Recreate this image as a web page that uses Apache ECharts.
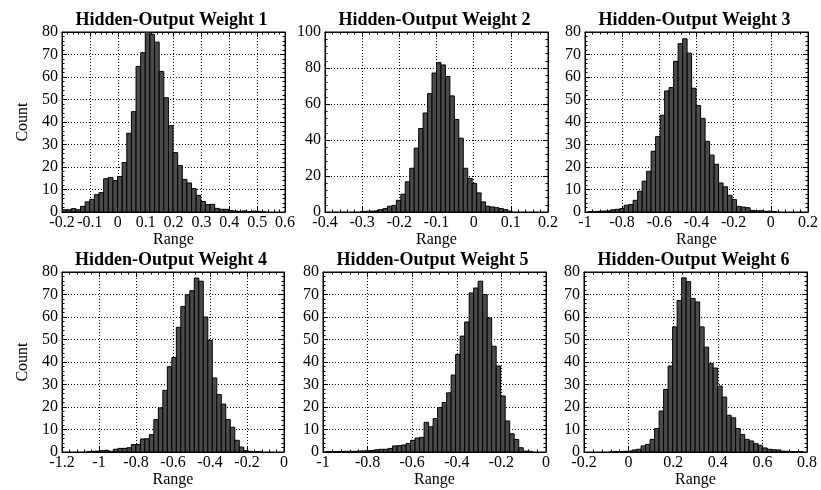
<!DOCTYPE html>
<html>
<head>
<meta charset="utf-8">
<script src="https://cdn.jsdelivr.net/npm/echarts@6/dist/echarts.min.js"></script>
<style>
html,body{margin:0;padding:0;background:#fff;}
#c{width:821px;height:490px;}
</style>
</head>
<body>
<div id="c"></div>
<script>
// ---- data ----
const titles = ["Hidden-Output Weight 1","Hidden-Output Weight 2","Hidden-Output Weight 3","Hidden-Output Weight 4","Hidden-Output Weight 5","Hidden-Output Weight 6"];

const binStart1 = -0.2, binWidth1 = 0.0166;
const counts1 = [1,1,1.5,1,2.5,4.5,5.6,7.7,8.6,14.8,15.3,14,15.8,22,35,44.6,64.7,70.8,80,79,75.5,62.5,50.8,38.4,26.4,20.7,14.5,12.9,10.4,7.4,4.7,3.3,3.4,1.6,1.2,1.2,0.6,0.4,0.3,0.5,0.2,0.4,0.3,0.2];

const binStart2 = -0.304, binWidth2 = 0.012;
const counts2 = [0.3,0.4,0.5,0.6,1.3,1.9,3.2,3.7,6.5,9.9,16.8,24.3,35.5,46.4,55,65.8,77.2,83,81.7,75.3,64.5,51.4,41,24.3,18.7,15.9,10.6,5.6,3.2,2.8,2.4,1.9,1.3,0.5];

const binStart3 = -0.983, binWidth3 = 0.0242;
const counts3 = [0.2,0.2,0.3,0.4,0.5,1,1.2,1.5,3,3.3,5.2,9.2,13.7,18.1,27,33.5,43,53.8,55.3,67,74.8,77,70.6,55,47.3,41.6,31.4,25.3,21.2,12.9,11.2,7.4,5.5,2.5,2.2,1.9,0.7,0.5,0.6,0.3,0.4,0.2];

const binStart4 = -1.068, binWidth4 = 0.0243;
const counts4 = [0.2,0.3,0.4,0.6,0.7,0.3,1.2,1.6,1.6,1.9,3.3,3.3,5.8,5.9,7.7,14.4,19.6,27.4,37.9,42,55.4,64.7,69.9,71.7,77.3,75.9,60,49.6,32.9,25.5,21.3,14.4,11,5.2,2.2,0.6,0.3,0.2,0.2];

const binStart5 = -0.991, binWidth5 = 0.0202;
const counts5 = [0.1,0.2,0.2,0.2,0.3,0.3,0.3,0.4,0.5,0.6,0.7,1,1.2,1.2,1.6,2.7,2.8,3.1,3.8,5.2,6.2,6.5,13.2,11.2,14.9,19.7,22,26.3,34.2,43.3,51.5,57.8,70.7,72.9,75.9,70,59.6,47,38.2,24.9,13.8,8.1,5.6,1.9,0.4,0.3];

const binStart6 = -0.0854, binWidth6 = 0.0202;
const counts6 = [0.1,0.2,0.2,0.3,0.4,0.9,1.2,2.7,3.4,5.6,10.4,18.2,27.8,38.2,55.6,67.3,77.4,75.7,68.2,66.7,55.6,46.6,39.3,37.3,29.3,24.4,16.3,15.2,10.4,7.8,5.6,4.9,3.7,3,1.8,1.2,1,0.9,0.4,0.3,0.2,0.2,0.1];

// axis ranges / ticks
const xMin = [-0.2,-0.4,-1,-1.2,-1,-0.2];
const xMax = [0.6,0.2,0.2,0,0,0.8];
const xStep = [0.1,0.1,0.2,0.2,0.2,0.2];
const yMax = [80,100,80,80,80,80];
const yStep = [10,20,10,10,10,10];

const xName = "Range", yName = "Count";

// ---- layout ----
const grids = [
  {left:62, top:32, width:223, height:180},
  {left:325, top:32, width:223, height:180},
  {left:585, top:32, width:223, height:180},
  {left:62, top:272, width:222, height:180},
  {left:323, top:272, width:223, height:180},
  {left:584, top:272, width:223, height:180}
];
const starts = [binStart1,binStart2,binStart3,binStart4,binStart5,binStart6];
const widths = [binWidth1,binWidth2,binWidth3,binWidth4,binWidth5,binWidth6];
const counts = [counts1,counts2,counts3,counts4,counts5,counts6];

const FONT = "Liberation Serif";
const fmt = v => String(+v.toFixed(3));

const option = {
  backgroundColor:'#fff',
  animation:false,
  title:[], grid:[], xAxis:[], yAxis:[], series:[]
};

grids.forEach((g,i)=>{
  option.grid.push({left:g.left, top:g.top, width:g.width, height:g.height, show:true, borderColor:'#000', borderWidth:1, backgroundColor:'transparent'});
  option.title.push({text:titles[i], left:g.left + g.width/2 - 2, top:g.top-21, textAlign:'center', padding:0,
    textStyle:{fontFamily:FONT, fontWeight:'bold', fontSize:18, color:'#000'}});
  const common = {type:'value', gridIndex:i};
  const line = {show:true, onZero:false, lineStyle:{color:'#000', width:1}};
  const tick = {show:true, inside:true, length:5, lineStyle:{color:'#000'}};
  const mtick = {show:true, splitNumber:5, length:2.5, lineStyle:{color:'#000'}};
  option.xAxis.push(Object.assign({}, common, {
    position:'bottom', min:xMin[i], max:xMax[i], interval:xStep[i],
    name:xName, nameLocation:'middle', nameGap:19,
    nameTextStyle:{fontFamily:FONT, fontSize:16, color:'#000'},
    axisLine:line, axisTick:tick, minorTick:mtick,
    axisLabel:{show:true, margin:3, color:'#000', fontFamily:FONT, fontSize:16, formatter:fmt, showMinLabel:true, showMaxLabel:true, hideOverlap:false},
    splitLine:{show:true, lineStyle:{color:'#000', width:1, type:[1,2]}}
  }));
  option.xAxis.push(Object.assign({}, common, {
    position:'top', min:xMin[i], max:xMax[i], interval:xStep[i],
    axisLine:line, axisTick:tick, minorTick:mtick,
    axisLabel:{show:false}, splitLine:{show:false}
  }));
  option.yAxis.push(Object.assign({}, common, {
    position:'left', min:0, max:yMax[i], interval:yStep[i],
    name:(i%3===0)?yName:'', nameLocation:'middle', nameGap:31,
    nameTextStyle:{fontFamily:FONT, fontSize:16, color:'#000'},
    axisLine:line, axisTick:tick, minorTick:mtick,
    axisLabel:{show:true, margin:4, color:'#000', fontFamily:FONT, fontSize:16},
    splitLine:{show:true, lineStyle:{color:'#000', width:1, type:[1,2]}}
  }));
  option.yAxis.push(Object.assign({}, common, {
    position:'right', min:0, max:yMax[i], interval:yStep[i],
    axisLine:line, axisTick:tick, minorTick:mtick,
    axisLabel:{show:false}, splitLine:{show:false}
  }));
  const data = counts[i].map((c,k)=>[starts[i]+k*widths[i], starts[i]+(k+1)*widths[i], c]);
  option.series.push({
    type:'custom', xAxisIndex:2*i, yAxisIndex:2*i, clip:true,
    data:data,
    renderItem:function(params, api){
      const p0 = api.coord([api.value(0), api.value(2)]);
      const p1 = api.coord([api.value(1), 0]);
      return {type:'rect', shape:{x:p0[0], y:p0[1], width:p1[0]-p0[0], height:p1[1]-p0[1]},
        style:{fill:'#4a4a4a', stroke:'#000', lineWidth:1}};
    }
  });
});

const chart = echarts.init(document.getElementById('c'), null, {renderer:'canvas'});
chart.setOption(option);
</script>
</body>
</html>
